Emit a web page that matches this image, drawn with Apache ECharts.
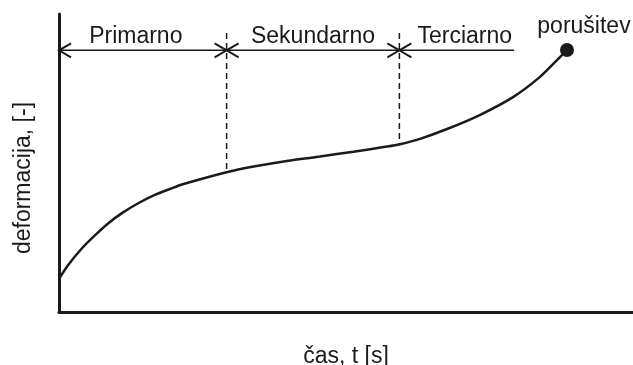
<!DOCTYPE html>
<html>
<head>
<meta charset="utf-8">
<script src="https://cdn.jsdelivr.net/npm/echarts@6/dist/echarts.min.js"></script>
<style>
html,body{margin:0;padding:0;background:#fff;}
#chart{width:633px;height:365px;}
</style>
</head>
<body>
<div id="chart"></div>
<script>
// ---- data (time in % of test duration, strain in relative units) ----
const time   = [0, 1.6, 4.0, 6.3, 8.6, 10.9, 13.8, 16.7, 19.6, 22.0, 29.2, 33.9, 39.7, 45.5, 51.3, 57.1, 59.4, 62.9, 67.6, 73.3, 79.1, 83.8, 86.8, 88.5];
const strain = [11.1, 15.8, 21.4, 25.8, 29.8, 33.1, 36.5, 39.3, 41.5, 43.1, 46.9, 48.8, 50.7, 52.2, 53.8, 55.5, 56.3, 58.1, 61.4, 66.1, 72.1, 78.9, 84.6, 87.9];
const phaseNames  = ['Primarno', 'Sekundarno', 'Terciarno'];
const phaseBounds = [0, 29.2, 59.3, 79.3];
const arrowLevel  = 87.8;
const dashTop     = 93.6;
const failureLabel = 'porušitev';
const xTitle = 'čas, t [s]';
const yTitle = 'deformacija, [-]';

const INK = '#1a1a1a';
const FONT = '"Liberation Sans", Arial, sans-serif';
const labelDx = [-7, 0, 8];

function strainAt(t) {
  for (let i = 0; i < time.length - 1; i++) {
    if (t >= time[i] && t <= time[i + 1]) {
      const f = (t - time[i]) / (time[i + 1] - time[i]);
      return strain[i] + f * (strain[i + 1] - strain[i]);
    }
  }
  return strain[strain.length - 1];
}

const curve = time.map((t, i) => [t, strain[i]]);
const last = curve[curve.length - 1];

const chart = echarts.init(document.getElementById('chart'), null, {renderer: 'canvas'});
chart.setOption({
  animation: false,
  backgroundColor: '#fff',
  grid: {left: 59, right: 0, top: 14, bottom: 53, containLabel: false, outerBoundsMode: 'none'},
  xAxis: {
    type: 'value', min: 0, max: 100,
    name: xTitle, nameLocation: 'middle', nameGap: 33,
    nameTextStyle: {fontFamily: FONT, fontSize: 23, color: INK},
    axisLine: {show: true, lineStyle: {color: INK, width: 3}},
    axisTick: {show: false}, axisLabel: {show: false}, splitLine: {show: false}
  },
  yAxis: {
    type: 'value', min: 0, max: 100,
    name: yTitle, nameLocation: 'middle', nameGap: 24, nameRotate: 90,
    nameTextStyle: {fontFamily: FONT, fontSize: 23, color: INK, padding: [0, 30, 0, 0]},
    axisLine: {show: true, lineStyle: {color: INK, width: 3}},
    axisTick: {show: false}, axisLabel: {show: false}, splitLine: {show: false}
  },
  series: [
    {
      type: 'line', data: curve, smooth: 0.3, showSymbol: false,
      lineStyle: {color: INK, width: 2.5}, z: 3
    },
    {
      type: 'scatter', data: [last], symbol: 'circle', symbolSize: 14,
      itemStyle: {color: INK, opacity: 1}, z: 4,
      label: {
        show: true, position: 'top', distance: 5, offset: [17, 0],
        formatter: failureLabel, fontFamily: FONT, fontSize: 23, color: INK
      }
    },
    {
      type: 'custom', data: [0], z: 2, silent: true,
      renderItem: function (params, api) {
        const children = [];
        const y = api.coord([0, arrowLevel])[1];
        const xs = phaseBounds.map(b => api.coord([b, 0])[0]);
        // main arrow line
        children.push({type: 'line', shape: {x1: xs[0], y1: y, x2: xs[xs.length - 1], y2: y},
          style: {stroke: INK, lineWidth: 1.5}});
        const L = 12, H = 7;
        for (let p = 0; p < phaseNames.length; p++) {
          const xl = xs[p];
          children.push({type: 'polyline', shape: {points: [[xl + L, y - H], [xl, y], [xl + L, y + H]]},
            style: {stroke: INK, lineWidth: 2, fill: null}});
          if (p < phaseNames.length - 1) {
            const xr = xs[p + 1];
            children.push({type: 'polyline', shape: {points: [[xr - L, y - H], [xr, y], [xr - L, y + H]]},
              style: {stroke: INK, lineWidth: 2, fill: null}});
          }
          children.push({type: 'text', style: {
            text: phaseNames[p], x: (xs[p] + xs[p + 1]) / 2 + labelDx[p], y: y - 2.5,
            align: 'center', verticalAlign: 'bottom', font: '23px ' + FONT, fill: INK}});
        }
        // dashed phase boundaries
        for (let i = 1; i < phaseBounds.length - 1; i++) {
          const top = api.coord([phaseBounds[i], dashTop]);
          const bot = api.coord([phaseBounds[i], strainAt(phaseBounds[i])]);
          children.push({type: 'line', shape: {x1: top[0], y1: top[1], x2: bot[0], y2: bot[1]},
            style: {stroke: INK, lineWidth: 1.5, lineDash: [6, 4]}});
        }
        return {type: 'group', children: children};
      }
    }
  ]
});
</script>
</body>
</html>
